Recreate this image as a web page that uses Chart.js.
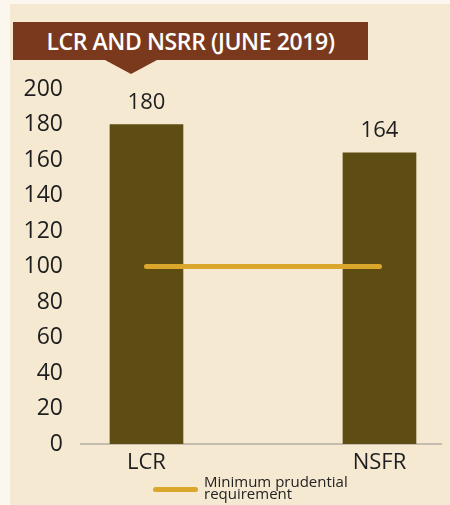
<!DOCTYPE html>
<html>
<head>
<meta charset="utf-8">
<script src="https://cdn.jsdelivr.net/npm/chart.js@4/dist/chart.umd.min.js"></script>
<style>
  html, body { margin: 0; padding: 0; }
  body { width: 450px; height: 505px; background: #fbf7ee; position: relative; overflow: hidden; font-family: "Open Sans", sans-serif; }
  #panel { position: absolute; left: 10px; top: 4px; width: 440px; height: 501px; background: #f5e9d2; }
  #wrap { position: absolute; left: 0; top: 0; width: 450px; height: 505px; }
  #title { position: absolute; left: 13px; top: 22px; width: 355px; height: 38px; background: #7a391d; color: #fff;
           font: 600 23px "Open Sans", sans-serif; line-height: 38px; text-align: center; letter-spacing: -0.4px; }
  #pointer { position: absolute; left: 105px; top: 60px; width: 0; height: 0;
             border-left: 26px solid transparent; border-right: 26px solid transparent; border-top: 14px solid #7a391d; }
  #legend { position: absolute; left: 153px; top: 475px; display: flex; align-items: flex-end; }
  #legend .swatch { width: 45px; height: 5px; border-radius: 3px; background: #dba62c; margin-bottom: 7px; }
  #legend .txt { margin-left: 6px; font: 15px "Open Sans", sans-serif; line-height: 12px; color: #222; }
</style>
</head>
<body>
<div id="panel"></div>
<div id="wrap"><canvas id="c" width="450" height="505"></canvas></div>
<div id="title">LCR AND NSRR (JUNE 2019)</div>
<div id="pointer"></div>
<div id="legend"><div class="swatch"></div><div class="txt">Minimum prudential<br>requirement</div></div>
<script>
// Ratios at June 2019
const categories = ['LCR', 'NSFR'];
const ratioValues = [180, 164];
const minimumRequirement = 100;
const yMax = 200;
const yStep = 20;

const barColor = '#5e4d12';
const lineColor = '#dba62c';
const textColor = '#1e1e1e';

// Value labels above each bar
const valueLabels = {
  id: 'valueLabels',
  afterDatasetsDraw(chart) {
    const meta = chart.getDatasetMeta(0);
    const ctx = chart.ctx;
    ctx.save();
    ctx.font = '22px "Open Sans"';
    ctx.fillStyle = textColor;
    ctx.textAlign = 'center';
    ctx.textBaseline = 'middle';
    meta.data.forEach((bar, i) => {
      ctx.fillText(String(ratioValues[i]), bar.x, bar.y - 22);
    });
    ctx.restore();
  }
};

new Chart(document.getElementById('c'), {
  data: {
    datasets: [
      {
        type: 'bar',
        order: 2,
        data: categories.map((c, i) => ({ x: i, y: ratioValues[i] })),
        backgroundColor: barColor,
        barThickness: 73
      },
      {
        type: 'line',
        order: 1,
        data: categories.map((c, i) => ({ x: i, y: minimumRequirement })),
        borderColor: lineColor,
        borderWidth: 5,
        borderCapStyle: 'round',
        pointRadius: 0
      }
    ]
  },
  options: {
    responsive: false,
    animation: false,
    layout: { padding: { left: 10, right: 9, top: 89, bottom: 0 } },
    plugins: { legend: { display: false }, tooltip: { enabled: false } },
    scales: {
      x: {
        type: 'linear',
        offset: false,
        min: -0.281,
        max: 1.264,
        grid: { display: false, drawTicks: false },
        border: { display: true, color: '#c4bcae', width: 2 },
        afterBuildTicks(scale) { scale.ticks = categories.map((c, i) => ({ value: i })); },
        afterFit(scale) { scale.height = 61; },
        ticks: {
          padding: 6,
          color: textColor,
          font: { family: 'Open Sans', size: 22, weight: '400' },
          callback: (v) => categories[v]
        }
      },
      y: {
        min: 0,
        max: yMax,
        grid: { display: false, drawTicks: false },
        border: { display: false },
        afterFit(scale) { scale.width = 71; },
        ticks: {
          stepSize: yStep,
          padding: 18,
          color: textColor,
          font: { family: 'Open Sans', size: 23, weight: '400' }
        }
      }
    }
  },
  plugins: [valueLabels]
});
</script>
</body>
</html>
